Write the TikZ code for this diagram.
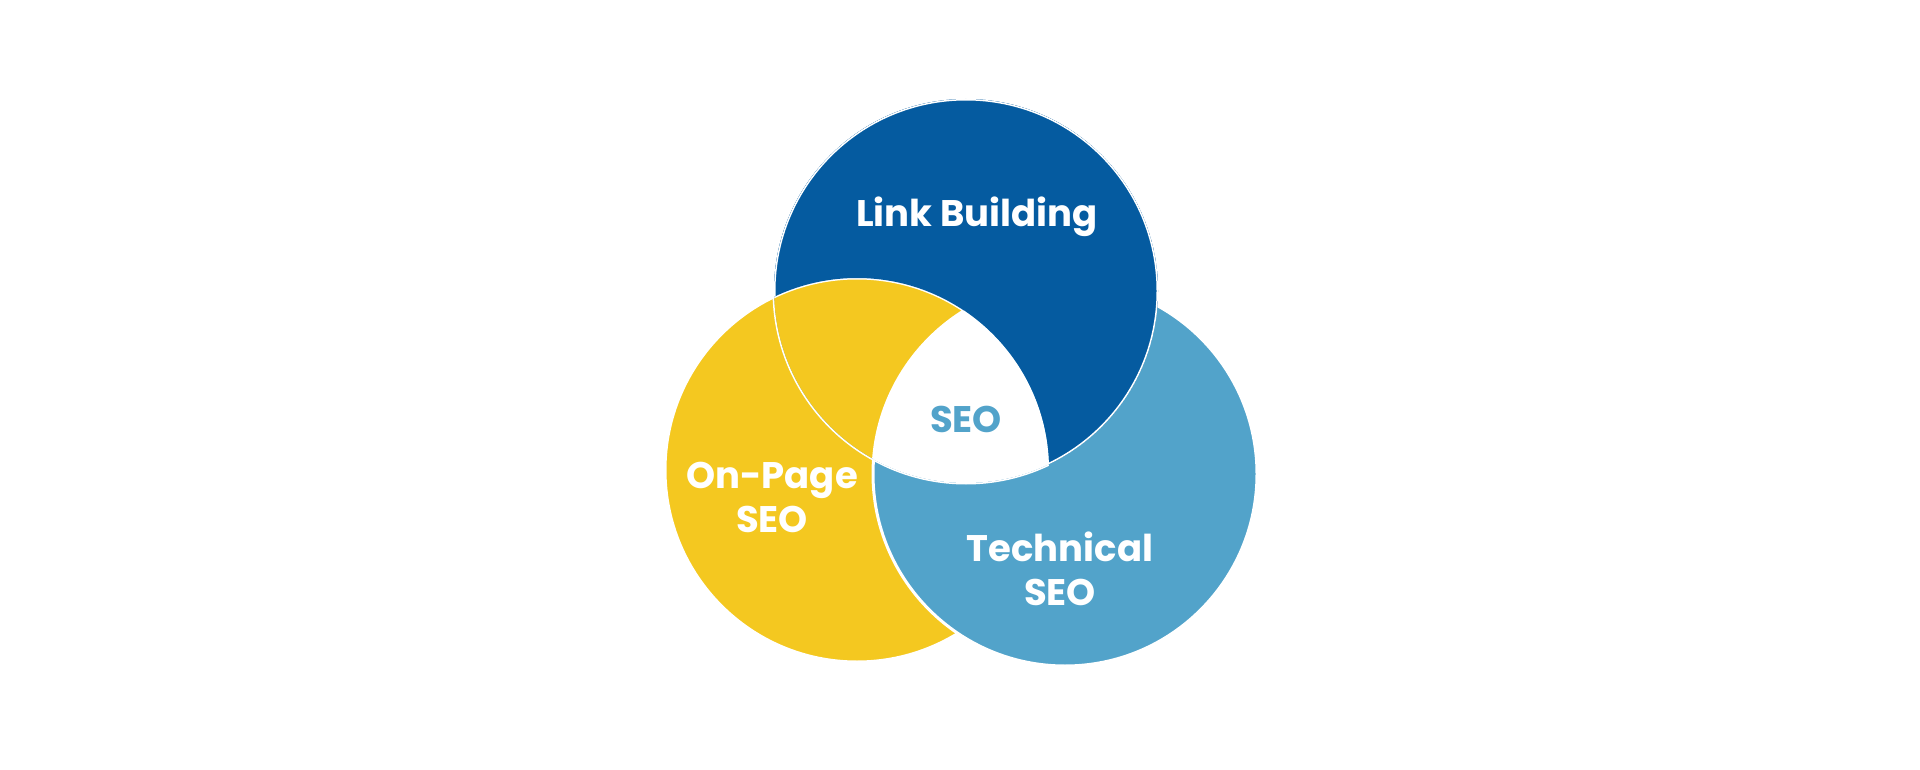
\documentclass[tikz,border=0pt]{standalone}
\usepackage{fontspec}
\setmainfont{Poppins}[BoldFont={Poppins Bold}]
\definecolor{linkblue}{HTML}{055BA0}
\definecolor{pageyellow}{HTML}{F4C820}
\definecolor{techteal}{HTML}{52A3CA}
\newcommand{\rad}{192}
\tikzset{
  petal/.style={% one of the three circles
    draw=white,
    line width=3pt
    },
  label/.style={% white bold text in a circle
    text=white,
    font=\bfseries\fontsize{37}{44}\selectfont,
    align=center
    }
}
\begin{document}
\begin{tikzpicture}[x=1pt,y=-1pt]
\useasboundingbox (0,0) rectangle (1920,770);

%%% Centres
\coordinate (link) at (966,291);
\coordinate (page) at (857,470);
\coordinate (tech) at (1065,474);

%%% Circles
\fill[linkblue] (link) circle (\rad);
\filldraw[petal, fill=pageyellow] (page) circle (\rad);
\filldraw[petal, fill=techteal] (tech) circle (\rad);
\begin{scope}[even odd rule]% blue lies over teal, under yellow
\clip (link) circle (\rad) (page) circle (\rad);
\filldraw[petal, fill=linkblue] (link) circle (\rad);
\end{scope}
\begin{scope}% common part
\clip (link) circle (\rad);
\clip (page) circle (\rad);
\fill[white] (tech) circle (\rad);
\end{scope}

%%% Labels
\node[label] (linklabel) at (977,217) {Link Building};
\node[label] (pagelabel) at (772,497) {On-Page\\SEO};
\node[label] (techlabel) at (1060,569) {Technical\\SEO};
\node[label, text=techteal] (seo) at (966,419) {SEO};

\end{tikzpicture}
\end{document}
